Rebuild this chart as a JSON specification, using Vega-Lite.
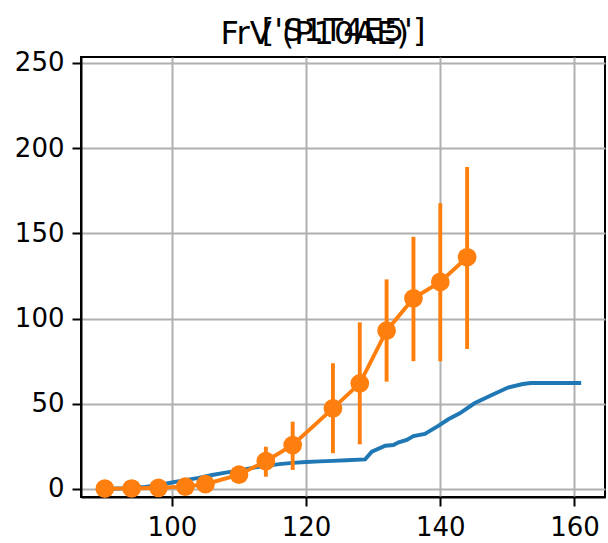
{
  "$schema": "https://vega.github.io/schema/vega-lite/v6.json",
  "width": 524,
  "height": 440,
  "autosize": {"type": "none"},
  "padding": {"left": 81, "top": 57, "right": 3, "bottom": 46},
  "background": "white",
  "title": {
    "text": "FrV (P10AE)",
    "anchor": "middle",
    "frame": "bounds",
    "font": "DejaVu Sans",
    "fontSize": 32,
    "fontWeight": "normal",
    "color": "black",
    "offset": -37,
    "dx": 5
  },
  "config": {
    "font": "DejaVu Sans",
    "view": {"stroke": "black", "strokeWidth": 2},
    "axis": {
      "domainColor": "black",
      "domainWidth": 2,
      "tickColor": "black",
      "tickWidth": 2,
      "tickSize": 9,
      "labelPadding": 8,
      "labelFont": "DejaVu Sans",
      "labelFontSize": 26,
      "labelColor": "black",
      "grid": true,
      "gridColor": "#b0b0b0",
      "gridWidth": 2
    }
  },
  "resolve": {"axis": {"x": "independent"}},
  "datasets": {
    "model": [
      {"x": 90, "y": 0},
      {"x": 93, "y": 0.4},
      {"x": 96, "y": 1.2},
      {"x": 98, "y": 2.2},
      {"x": 100, "y": 3.8},
      {"x": 102, "y": 5.2},
      {"x": 104, "y": 6.5},
      {"x": 106, "y": 8.2},
      {"x": 108, "y": 9.6},
      {"x": 110, "y": 10.8},
      {"x": 112, "y": 12.4},
      {"x": 114, "y": 13.6},
      {"x": 116, "y": 14.6},
      {"x": 118, "y": 15.3},
      {"x": 120, "y": 15.8},
      {"x": 122, "y": 16.2},
      {"x": 124, "y": 16.5},
      {"x": 126, "y": 16.9},
      {"x": 128.8, "y": 17.4},
      {"x": 129.8, "y": 21.9},
      {"x": 131.8, "y": 25.4},
      {"x": 133, "y": 25.8},
      {"x": 133.8, "y": 27.4},
      {"x": 135, "y": 28.8},
      {"x": 136, "y": 31.1},
      {"x": 137.7, "y": 32.3},
      {"x": 139.7, "y": 37},
      {"x": 141.2, "y": 40.9},
      {"x": 142.9, "y": 44.4},
      {"x": 145.1, "y": 50.3},
      {"x": 147.6, "y": 55},
      {"x": 150.1, "y": 59.5},
      {"x": 152.3, "y": 61.6},
      {"x": 153.5, "y": 62.2},
      {"x": 161, "y": 62.2}
    ],
    "obs": [
      {"x": 90, "y": 0.2, "lo": 0, "hi": 0.4},
      {"x": 94, "y": 0.3, "lo": 0, "hi": 0.6},
      {"x": 98, "y": 0.7, "lo": 0.2, "hi": 1.2},
      {"x": 102, "y": 1.4, "lo": 0.6, "hi": 2.2},
      {"x": 105, "y": 2.8, "lo": 1.4, "hi": 4.2},
      {"x": 110, "y": 8.4, "lo": 4.5, "hi": 12.5},
      {"x": 114, "y": 16.3, "lo": 7.2, "hi": 24.8},
      {"x": 118, "y": 25.8, "lo": 11.2, "hi": 39.5},
      {"x": 124, "y": 47.3, "lo": 21, "hi": 73.8},
      {"x": 128, "y": 62, "lo": 26.2, "hi": 97.8},
      {"x": 132, "y": 92.9, "lo": 63, "hi": 123},
      {"x": 136, "y": 111.9, "lo": 75, "hi": 148},
      {"x": 140, "y": 121.5, "lo": 75, "hi": 167.7},
      {"x": 144, "y": 136, "lo": 82.2, "hi": 189}
    ]
  },
  "layer": [
    {
      "data": {"name": "model"},
      "mark": {"type": "line", "color": "#1f77b4", "strokeWidth": 3.9},
      "encoding": {
        "x": {
          "field": "x",
          "type": "quantitative",
          "title": null,
          "scale": {"domain": [86.45, 164.55], "nice": false, "zero": false},
          "axis": {"values": [100, 120, 140, 160], "format": "d", "orient": "bottom"}
        },
        "y": {
          "field": "y",
          "type": "quantitative",
          "title": null,
          "scale": {"domain": [-4.7, 253.5], "nice": false, "zero": false},
          "axis": {"values": [0, 50, 100, 150, 200, 250], "format": "d"}
        }
      }
    },
    {
      "data": {"name": "obs"},
      "mark": {"type": "rule", "color": "#ff7f0e", "strokeWidth": 3.9},
      "encoding": {
        "x": {
          "field": "x",
          "type": "quantitative",
          "axis": {
            "orient": "top",
            "title": "['S1T4E5']",
            "labels": false,
            "ticks": false,
            "domain": false,
            "grid": false,
            "minExtent": 0,
            "maxExtent": 0,
            "titleFont": "DejaVu Sans",
            "titleFontSize": 32,
            "titleFontWeight": "normal",
            "titleColor": "black",
            "titleBaseline": "alphabetic",
            "titlePadding": 17
          }
        },
        "y": {"field": "lo", "type": "quantitative", "title": null},
        "y2": {"field": "hi"}
      }
    },
    {
      "data": {"name": "obs"},
      "mark": {"type": "line", "color": "#ff7f0e", "strokeWidth": 3.9},
      "encoding": {
        "x": {"field": "x", "type": "quantitative", "axis": null},
        "y": {"field": "y", "type": "quantitative", "title": null}
      }
    },
    {
      "data": {"name": "obs"},
      "mark": {"type": "point", "filled": true, "color": "#ff7f0e", "opacity": 1, "size": 350, "shape": "circle"},
      "encoding": {
        "x": {"field": "x", "type": "quantitative", "axis": null},
        "y": {"field": "y", "type": "quantitative", "title": null}
      }
    }
  ]
}
